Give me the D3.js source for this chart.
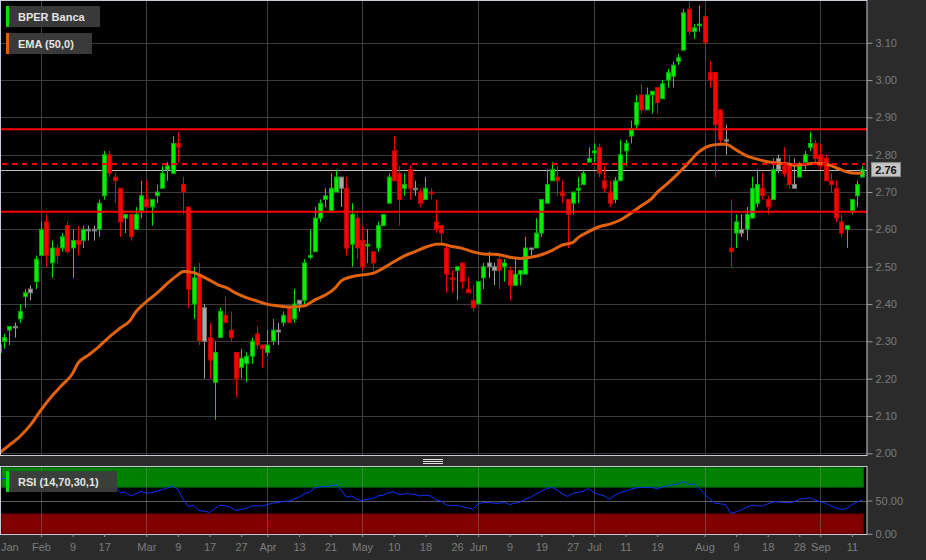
<!DOCTYPE html>
<html><head><meta charset="utf-8">
<script src="https://cdn.jsdelivr.net/npm/d3@7"></script>
<style>
html,body{margin:0;padding:0;background:#2b2b2b;}
svg{display:block;font-family:"Liberation Sans",Arial,sans-serif;}
</style></head><body>
<svg id="chart" width="926" height="560"></svg>
<script>
// ---------- DATA ----------
const firstDay = "2023-01-20";
const lastDay = "2023-09-13";
const holidays = ["2023-04-07", "2023-04-10", "2023-05-01", "2023-08-15"];

const open = [2.27,2.30,2.33,2.34,2.36,2.42,2.44,2.46,2.53,2.62,2.51,2.55,2.55,2.61,2.55,2.57,2.57,2.60,2.60,2.60,
2.69,2.80,2.74,2.71,2.63,2.64,2.60,2.65,2.68,2.66,2.69,2.71,2.76,2.75,2.83,2.72,2.66,2.40,2.48,2.39,
2.31,2.19,2.31,2.37,2.33,2.27,2.23,2.24,2.26,2.32,2.29,2.27,2.30,2.325,2.35,2.39,2.36,2.41,2.41,2.525,
2.54,2.63,2.68,2.65,2.70,2.71,2.71,2.56,2.63,2.57,2.555,2.54,2.55,2.61,2.67,2.81,2.75,2.71,2.76,2.71,
2.70,2.68,2.70,2.62,2.61,2.55,2.47,2.49,2.51,2.44,2.41,2.40,2.47,2.51,2.49,2.52,2.50,2.49,2.45,2.48,
2.48,2.55,2.55,2.59,2.67,2.73,2.74,2.70,2.68,2.67,2.705,2.72,2.78,2.805,2.82,2.73,2.70,2.68,2.73,2.81,
2.85,2.88,2.96,2.92,2.96,2.98,2.95,3.00,3.01,3.05,3.08,3.19,3.13,3.145,3.17,3.02,3.02,2.92,2.84,2.55,
2.62,2.60,2.60,2.63,2.67,2.71,2.68,2.68,2.79,2.77,2.77,2.71,2.74,2.78,2.82,2.83,2.80,2.79,2.73,2.71,
2.62,2.60,2.65,2.69,2.74];
const high = [2.30,2.32,2.34,2.35,2.40,2.44,2.45,2.53,2.62,2.64,2.57,2.56,2.59,2.62,2.60,2.61,2.61,2.61,2.61,2.68,
2.81,2.81,2.75,2.71,2.64,2.64,2.66,2.73,2.73,2.68,2.72,2.77,2.78,2.85,2.86,2.74,2.66,2.50,2.51,2.40,
2.35,2.30,2.39,2.42,2.38,2.27,2.28,2.27,2.31,2.34,2.29,2.33,2.36,2.35,2.38,2.40,2.44,2.41,2.52,2.60,
2.66,2.68,2.71,2.75,2.76,2.74,2.74,2.67,2.64,2.61,2.60,2.54,2.62,2.64,2.75,2.85,2.77,2.75,2.77,2.73,
2.71,2.74,2.71,2.68,2.61,2.56,2.49,2.50,2.51,2.47,2.45,2.46,2.51,2.54,2.51,2.53,2.52,2.50,2.52,2.49,
2.58,2.55,2.63,2.68,2.76,2.78,2.77,2.73,2.68,2.70,2.74,2.76,2.82,2.83,2.83,2.77,2.73,2.74,2.84,2.84,
2.89,2.96,2.99,2.98,2.97,2.98,3.00,3.03,3.05,3.07,3.19,3.21,3.15,3.20,3.18,3.05,3.02,2.92,2.88,2.68,
2.64,2.64,2.66,2.74,2.76,2.75,2.69,2.79,2.80,2.82,2.80,2.79,2.78,2.81,2.86,2.84,2.83,2.80,2.75,2.73,
2.64,2.61,2.68,2.73,2.77];
const low = [2.26,2.28,2.29,2.31,2.35,2.39,2.41,2.44,2.53,2.50,2.47,2.51,2.54,2.535,2.47,2.53,2.55,2.57,2.57,2.58,
2.68,2.74,2.67,2.58,2.59,2.57,2.60,2.63,2.66,2.61,2.67,2.71,2.73,2.75,2.78,2.64,2.39,2.36,2.29,2.20,
2.20,2.09,2.31,2.35,2.30,2.15,2.20,2.19,2.24,2.28,2.23,2.26,2.29,2.29,2.34,2.35,2.35,2.38,2.40,2.52,
2.54,2.62,2.66,2.65,2.70,2.66,2.53,2.50,2.52,2.49,2.51,2.49,2.54,2.61,2.67,2.73,2.61,2.69,2.68,2.69,
2.66,2.68,2.68,2.59,2.56,2.43,2.43,2.41,2.44,2.43,2.38,2.40,2.44,2.47,2.45,2.44,2.46,2.41,2.45,2.45,
2.48,2.53,2.55,2.58,2.67,2.73,2.69,2.67,2.55,2.64,2.67,2.72,2.78,2.78,2.74,2.70,2.66,2.67,2.73,2.77,
2.83,2.87,2.91,2.92,2.91,2.91,2.95,2.98,2.98,3.04,3.08,3.12,3.11,3.13,3.05,2.98,2.74,2.83,2.80,2.50,
2.55,2.58,2.57,2.63,2.66,2.68,2.64,2.68,2.75,2.74,2.71,2.71,2.74,2.76,2.81,2.78,2.76,2.73,2.70,2.62,
2.58,2.55,2.64,2.66,2.74];
const close = [2.29,2.31,2.34,2.34,2.38,2.43,2.43,2.52,2.60,2.53,2.55,2.53,2.58,2.54,2.57,2.56,2.60,2.60,2.60,2.67,
2.80,2.75,2.73,2.62,2.64,2.58,2.64,2.69,2.66,2.68,2.70,2.75,2.77,2.83,2.82,2.70,2.44,2.47,2.30,2.30,
2.25,2.27,2.38,2.35,2.31,2.20,2.255,2.26,2.30,2.29,2.28,2.29,2.33,2.33,2.37,2.35,2.40,2.40,2.51,2.53,
2.63,2.67,2.69,2.71,2.74,2.74,2.55,2.64,2.55,2.50,2.56,2.51,2.61,2.64,2.74,2.73,2.68,2.72,2.71,2.71,
2.67,2.71,2.695,2.60,2.59,2.48,2.468,2.50,2.46,2.43,2.39,2.46,2.50,2.50,2.50,2.49,2.51,2.45,2.48,2.49,
2.55,2.55,2.59,2.68,2.72,2.76,2.73,2.69,2.64,2.70,2.71,2.75,2.79,2.81,2.75,2.71,2.67,2.73,2.80,2.83,
2.87,2.94,2.92,2.96,2.97,2.94,2.99,3.02,3.04,3.06,3.18,3.13,3.14,3.15,3.10,3.00,2.88,2.84,2.84,2.54,
2.59,2.59,2.64,2.71,2.72,2.69,2.66,2.76,2.76,2.75,2.72,2.72,2.77,2.80,2.83,2.79,2.77,2.73,2.72,2.63,
2.59,2.61,2.68,2.72,2.76];

// EMA(50) at these trading-day positions
const emaDay = [0,2,4,6,8,10,12,14,15,17,19,21,23,25,26,28,30,32,34,35,37,38,40,42,43,45,47,49,51,53,55,56,58,59,60,62,64,65,67,69,71,73,75,77,79,81,83,84,86,88,90,92,94,96,97,99,101,103,105,107,109,110,112,114,116,118,120,122,124,125,127,129,131,133,135,137,138,140,142,144,146,148,150,151,153,155,157,159,161,163,164];
const emaValue = [2.000,2.022,2.045,2.076,2.116,2.152,2.183,2.214,2.241,2.263,2.286,2.312,2.335,2.357,2.379,2.406,2.429,2.455,2.478,2.487,2.484,2.478,2.464,2.449,2.445,2.429,2.417,2.408,2.399,2.395,2.392,2.392,2.395,2.402,2.411,2.424,2.445,2.462,2.473,2.478,2.482,2.496,2.513,2.529,2.540,2.552,2.560,2.561,2.554,2.549,2.540,2.534,2.533,2.529,2.525,2.522,2.525,2.532,2.543,2.558,2.565,2.578,2.594,2.607,2.614,2.625,2.643,2.663,2.683,2.699,2.723,2.750,2.779,2.808,2.824,2.828,2.828,2.813,2.797,2.788,2.781,2.777,2.775,2.772,2.774,2.777,2.775,2.765,2.754,2.750,2.750];

// RSI(14), one value per trading day
const rsiValue = [82,83,85,84,86,88,88,91,93,86,87,85,86,84,85,84,85,85,85,84,
86,80,73,62,63,57,60,64,61,62,64,66,69,71.5,67,52,41,43,35,34,
32,38,43,42,40,35,37,38,42,42,42,44,46,47,49,49,52,55,60,63,
69,70.5,71,72,73.5,66,55,57,52,50,52,53,57,58,62,63,59,60,60,59,
57,58,57,51,49,43,42,43,41,39,37,45,47,47,46,46,47,44,46,48,
52,55,60,64,68,70,66,60,56,61,62,64,68,62,59,57,52,58,62,64,
67,69,70,69.5,70,67.5,70.5,72,73.5,75,78.5,74.5,75,69,60,52,46,45,44,30.5,
33,36,40,43,42,41.6,45,48,48,47,47,48,52,53,54,51,48,46,42,39,
36.6,38,44,48,51];

const resistanceLevels = [2.868, 2.647];
const dashedLevels = [2.775];
const priceTicks = [2.0,2.1,2.2,2.3,2.4,2.5,2.6,2.7,2.8,2.9,3.0,3.1];
const rsiTicks = [0, 50];
const rsiBands = [[70, 100], [0, 30]];
const xTickDates = ["2023-02-01","2023-02-09","2023-02-17","2023-03-01","2023-03-09","2023-03-17","2023-03-27","2023-04-03","2023-04-13","2023-04-21","2023-05-02","2023-05-10","2023-05-18","2023-05-26","2023-06-01","2023-06-09","2023-06-19","2023-06-27","2023-07-03","2023-07-11","2023-07-19","2023-08-01","2023-08-09","2023-08-18","2023-08-28","2023-09-01","2023-09-11"];
const xTickLabels = ["Feb","9","17","Mar","9","17","27","Apr","13","21","May","10","18","26","Jun","9","19","27","Jul","11","19","Aug","9","18","28","Sep","11"];
const firstLabel = "Jan";
const monthLabels = ["Feb","Mar","Apr","May","Jun","Jul","Aug","Sep"];
const seriesName = "BPER Banca";
const emaName = "EMA (50,0)";
const rsiName = "RSI (14,70,30,1)";

// ---------- SETUP ----------
const fmt = d3.timeFormat("%Y-%m-%d");
const parse = d3.timeParse("%Y-%m-%d");
const dates = d3.timeDay.range(parse(firstDay), d3.timeDay.offset(parse(lastDay), 1))
  .filter(d => d.getDay() % 6 !== 0 && !holidays.includes(fmt(d)))
  .map(fmt);

const W = 926, H = 560;
const P = {l: 0, r: 867, t: 0, b: 455};
const R = {t: 466, b: 534};

const x = d3.scalePoint().domain(dates).range([-1.13, 862.5]);
const y = d3.scaleLinear().domain([2.0, 3.1]).range([453.3, 42.7]);
const ry = d3.scaleLinear().domain([0, 100]).range([533.8, 467.3]);

const svg = d3.select("#chart");
svg.append("rect").attr("width", W).attr("height", H).attr("fill", "#2b2b2b");

const defs = svg.append("defs");
defs.append("clipPath").attr("id", "clipMain").append("rect")
  .attr("x", P.l).attr("y", P.t).attr("width", P.r - P.l).attr("height", P.b - P.t);
defs.append("clipPath").attr("id", "clipRsi").append("rect")
  .attr("x", 0).attr("y", R.t).attr("width", P.r).attr("height", R.b - R.t);

// ---------- MAIN PANEL ----------
svg.append("rect").attr("x", P.l).attr("y", P.t).attr("width", P.r - P.l).attr("height", P.b - P.t).attr("fill", "#000");

const monthDates = xTickDates.filter((d, i) => monthLabels.includes(xTickLabels[i]));

const main = svg.append("g").attr("clip-path", "url(#clipMain)");
// grid
main.append("g").selectAll("line").data(priceTicks).join("line")
  .attr("x1", 0).attr("x2", P.r)
  .attr("y1", d => Math.round(y(d)) + 0.5).attr("y2", d => Math.round(y(d)) + 0.5)
  .attr("stroke", "#3d3d3d").attr("stroke-width", 1);
main.append("g").selectAll("line").data(monthDates).join("line")
  .attr("x1", d => Math.round(x(d)) + 0.5).attr("x2", d => Math.round(x(d)) + 0.5)
  .attr("y1", 0).attr("y2", P.b)
  .attr("stroke", "#3d3d3d").attr("stroke-width", 1);

// last price line
const lastClose = close[close.length - 1];
main.append("line").attr("x1", 0).attr("x2", P.r)
  .attr("y1", Math.round(y(lastClose)) + 0.5).attr("y2", Math.round(y(lastClose)) + 0.5)
  .attr("stroke", "#bdbdbd").attr("stroke-width", 1);

// candles
const candles = dates.map((d, i) => ({
  d, o: open[i], h: high[i], l: low[i], c: close[i],
  prev: i === 0 ? open[0] : close[i - 1]
}));
function cls(k) {
  const diff = k.c - k.prev;
  if (Math.abs(diff) < 1e-9) return "flat";
  return diff > 0 ? "up" : "down";
}
const fillC = {up: "#00f000", down: "#ff0000", flat: "#a8a8a8"};
const strokeC = {up: "#00a800", down: "#c00000", flat: "#787878"};
const wickC = {up: "#00e000", down: "#f00000", flat: "#a0a0a0"};

const cg = main.append("g");
cg.selectAll("line.wick").data(candles).join("line").attr("class", "wick")
  .attr("x1", k => Math.round(x(k.d)) + 0.5).attr("x2", k => Math.round(x(k.d)) + 0.5)
  .attr("y1", k => y(k.h)).attr("y2", k => y(k.l))
  .attr("stroke", k => wickC[cls(k)]).attr("stroke-width", 1);
cg.selectAll("rect.body").data(candles).join("rect").attr("class", "body")
  .attr("x", k => Math.round(x(k.d)) - 1.5)
  .attr("width", 4)
  .attr("y", k => Math.min(y(k.o), y(k.c)))
  .attr("height", k => Math.max(1.5, Math.abs(y(k.o) - y(k.c))))
  .attr("fill", k => fillC[cls(k)])
  .attr("stroke", k => strokeC[cls(k)]).attr("stroke-width", 1);

// EMA
const emaPts = emaDay.map((di, i) => ({d: dates[di], v: emaValue[i]}));
main.append("path").datum(emaPts)
  .attr("d", d3.line().x(p => x(p.d)).y(p => y(p.v)).curve(d3.curveMonotoneX))
  .attr("fill", "none").attr("stroke", "#e2620c").attr("stroke-width", 3);

// levels
main.append("g").selectAll("line").data(resistanceLevels).join("line")
  .attr("x1", 0).attr("x2", P.r).attr("y1", d => y(d)).attr("y2", d => y(d))
  .attr("stroke", "#ff0000").attr("stroke-width", 2);
main.append("g").selectAll("line").data(dashedLevels).join("line")
  .attr("x1", 2).attr("x2", 865).attr("y1", d => y(d)).attr("y2", d => y(d))
  .attr("stroke", "#ff0000").attr("stroke-width", 2).attr("stroke-dasharray", "5,5");

// border
svg.append("rect").attr("x", 0.5).attr("y", 0.5).attr("width", P.r - 0.5).attr("height", P.b)
  .attr("fill", "none").attr("stroke", "#c9ccd8").attr("stroke-width", 1);

// price axis
const yAxis = d3.axisRight(y).tickValues(priceTicks).tickFormat(d3.format(".2f"))
  .tickSize(5).tickPadding(3);
const ya = svg.append("g").attr("transform", `translate(${P.r + 0.5},0)`).call(yAxis);
ya.select(".domain").remove();
ya.selectAll("line").attr("stroke", "#9a9a9a");
ya.selectAll("text").attr("fill", "#7c7c7c").attr("font-size", 11)
  .attr("font-family", '"Liberation Sans",Arial,sans-serif');

// current price tag
const tagY = y(lastClose);
svg.append("rect").attr("x", 871.5).attr("y", tagY - 7).attr("width", 29).attr("height", 14)
  .attr("fill", "#c4c4c4").attr("stroke", "#8a8a8a").attr("stroke-width", 1);
svg.append("text").attr("x", 886).attr("y", tagY + 4).attr("text-anchor", "middle")
  .attr("font-size", 11).attr("font-weight", "bold").attr("fill", "#111")
  .text(d3.format(".2f")(lastClose));

// legends
function legend(yTop, color, label, w) {
  const g = svg.append("g");
  g.append("rect").attr("x", 9).attr("y", yTop).attr("width", w).attr("height", 21)
    .attr("fill", "#3c3c3c").attr("fill-opacity", 0.95);
  g.append("rect").attr("x", 6).attr("y", yTop).attr("width", 3).attr("height", 21).attr("fill", color);
  g.append("text").attr("x", 18).attr("y", yTop + 15).attr("font-size", 11).attr("font-weight", "bold")
    .attr("fill", "#e4e4e4").text(label);
}
legend(6, "#00e000", seriesName, 91);
legend(33, "#e2620c", emaName, 83);

// ---------- SEPARATOR ----------
[459.5, 461.5, 463.5].forEach(yy => {
  svg.append("line").attr("x1", 423).attr("x2", 443).attr("y1", yy).attr("y2", yy)
    .attr("stroke", "#e0e0e0").attr("stroke-width", 1);
});

// ---------- RSI PANEL ----------
svg.append("rect").attr("x", 0).attr("y", R.t).attr("width", P.r).attr("height", R.b - R.t).attr("fill", "#000");
const rg = svg.append("g").attr("clip-path", "url(#clipRsi)");
rg.selectAll("rect.band").data(rsiBands).join("rect").attr("class", "band")
  .attr("x", 1.5).attr("width", 862)
  .attr("y", d => ry(d[1])).attr("height", d => ry(d[0]) - ry(d[1]))
  .attr("fill", (d, i) => i === 0 ? "#008000" : "#800000")
  .attr("stroke", (d, i) => i === 0 ? "#005a00" : "#5a0000").attr("stroke-width", 1);
rg.append("line").attr("x1", 0).attr("x2", P.r)
  .attr("y1", Math.round(ry(50)) + 0.5).attr("y2", Math.round(ry(50)) + 0.5)
  .attr("stroke", "#5a5a5a");
rg.append("g").selectAll("line").data(monthDates).join("line")
  .attr("x1", d => Math.round(x(d)) + 0.5).attr("x2", d => Math.round(x(d)) + 0.5)
  .attr("y1", R.t).attr("y2", R.b)
  .attr("stroke", "#8a8a8a").attr("stroke-opacity", 0.45);
rg.append("path").datum(rsiValue)
  .attr("d", d3.line().x((v, i) => x(dates[i])).y(v => ry(v)))
  .attr("fill", "none").attr("stroke", "#1030ff").attr("stroke-width", 1);

svg.append("rect").attr("x", 0.5).attr("y", R.t + 0.5).attr("width", P.r - 0.5).attr("height", R.b - R.t)
  .attr("fill", "none").attr("stroke", "#c9ccd8").attr("stroke-width", 1);

legend(471, "#00e000", rsiName, 108);

// rsi axis
const rAxis = d3.axisRight(ry).tickValues(rsiTicks).tickFormat(d3.format(".2f"))
  .tickSize(5).tickPadding(3);
const ra = svg.append("g").attr("transform", `translate(${P.r + 0.5},0)`).call(rAxis);
ra.select(".domain").remove();
ra.selectAll("line").attr("stroke", "#9a9a9a");
ra.selectAll("text").attr("fill", "#7c7c7c").attr("font-size", 11)
  .attr("font-family", '"Liberation Sans",Arial,sans-serif');

// ---------- X AXIS ----------
const xAxis = d3.axisBottom(x).tickValues(xTickDates)
  .tickFormat((d, i) => xTickLabels[i]).tickSize(3).tickPadding(6);
const xa = svg.append("g").attr("transform", `translate(0,${R.b})`).call(xAxis);
xa.select(".domain").remove();
xa.selectAll("line").attr("stroke", "#9a9a9a");
xa.selectAll("text").attr("fill", "#7c7c7c").attr("font-size", 11)
  .attr("font-family", '"Liberation Sans",Arial,sans-serif');
svg.append("text").attr("x", 1).attr("y", 551).attr("font-size", 11).attr("fill", "#7c7c7c")
  .text(firstLabel);
</script>
</body></html>
